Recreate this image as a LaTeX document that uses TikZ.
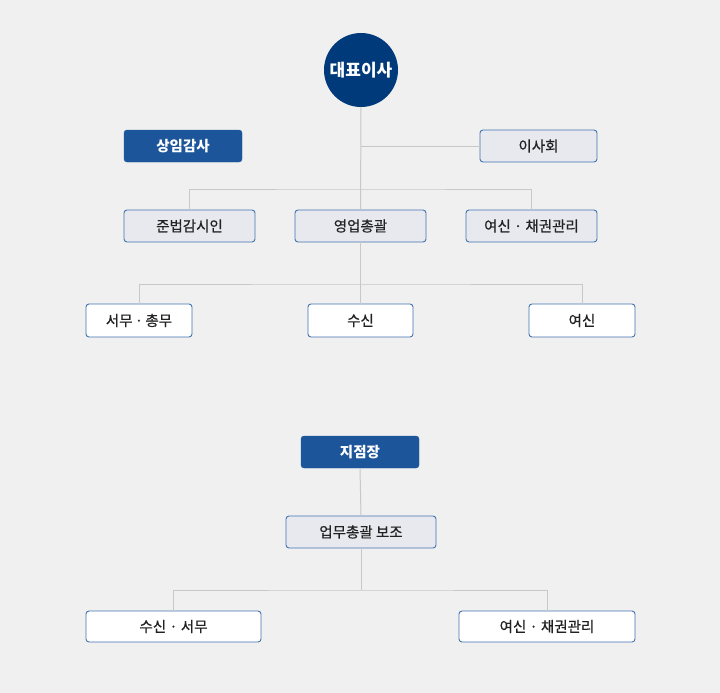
\documentclass[tikz,border=0pt]{standalone}
\usepackage{fontspec}
\setmainfont{Noto Sans CJK KR}
\newfontfamily\medfont[FakeBold=0.6]{Noto Sans CJK KR}
\definecolor{bgc}{HTML}{F0F0F0}
\definecolor{linec}{HTML}{C8C8C8}
\definecolor{navy}{HTML}{003A7A}
\definecolor{darkbox}{HTML}{1C5599}
\definecolor{boxline}{HTML}{4274B0}
\definecolor{lightfill}{HTML}{E8E9EF}
\definecolor{txt}{HTML}{222222}
\begin{document}
\begin{tikzpicture}[x=1pt,y=-1pt,
  conn/.style={draw=linec,line width=1pt},
  darkb/.style={draw=darkbox,fill=darkbox,rounded corners=3pt,text=white,font=\fontsize{14.5}{16}\selectfont\bfseries,minimum height=32pt,inner sep=0pt},
  lightb/.style={draw=boxline,fill=lightfill,rounded corners=3pt,text=txt,font=\fontsize{14.5}{16}\medfont,minimum height=32pt,inner sep=0pt,line width=0.9pt},
  whiteb/.style={draw=boxline,fill=white,rounded corners=3pt,text=txt,font=\fontsize{14.5}{16}\medfont,minimum height=32pt,inner sep=0pt,line width=0.9pt}]
\fill[bgc] (0,0) rectangle (720,693);
\useasboundingbox (0,0) rectangle (720,693);
% junctions
\coordinate (j0) at (361,146);
\coordinate (j1) at (361,189);
\coordinate (j2) at (361,284);
\coordinate (j3) at (361,590);
% nodes
\node[circle,fill=navy,minimum size=74pt,inner sep=0pt,text=white,font=\fontsize{17}{19}\selectfont\bfseries] (ceo) at (361,70) {대표이사};
\node[darkb,minimum width=118pt] (audit) at (183,146) {상임감사};
\node[lightb,minimum width=117pt] (board) at (538.5,146) {이사회};
\node[lightb,minimum width=131pt] (comp) at (189.5,226) {준법감시인};
\node[lightb,minimum width=131pt] (gm) at (360.5,226) {영업총괄};
\node[lightb,minimum width=131pt] (cred) at (531.5,226) {여신 · 채권관리};
\node[whiteb,minimum width=106pt,minimum height=33pt] (gen) at (139,320.5) {서무\,·\,총무};
\node[whiteb,minimum width=105pt,minimum height=33pt] (dep) at (360.5,320.5) {수신};
\node[whiteb,minimum width=106pt,minimum height=33pt] (loan) at (582,320.5) {여신};
\node[darkb,minimum width=118pt] (branch) at (360,452) {지점장};
\node[lightb,minimum width=150pt] (assist) at (361,532) {업무총괄 보조};
\node[whiteb,minimum width=175pt,minimum height=31pt] (bl) at (173.5,626.5) {수신 · 서무};
\node[whiteb,minimum width=176pt,minimum height=31pt] (br) at (547,626.5) {여신 · 채권관리};
% connectors
\draw[conn] (ceo.south) -- (gm.north);
\draw[conn] (j0) -- (board.west);
\draw[conn] (comp.north) |- (j1) -| (cred.north);
\draw[conn] (gm.south) -- (dep.north);
\draw[conn] (gen.north) |- (j2) -| (loan.north);
\draw[conn] (branch.south) -- (assist.north);
\draw[conn] (assist.south) -- (j3);
\draw[conn] (bl.north) |- (j3) -| (br.north);
\end{tikzpicture}
\end{document}
